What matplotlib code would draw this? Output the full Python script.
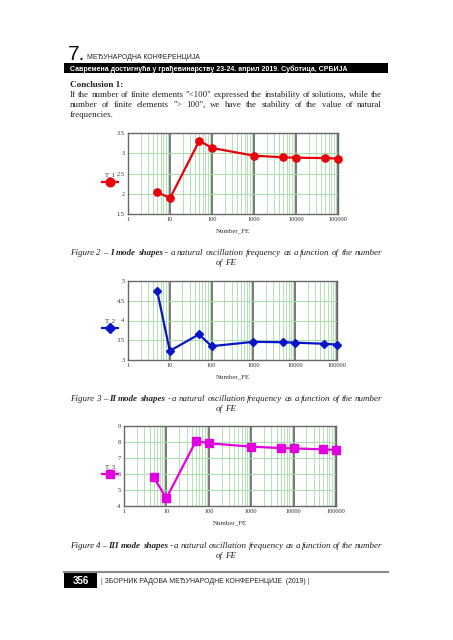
import matplotlib
matplotlib.use('Agg')
import matplotlib.pyplot as plt
from matplotlib.lines import Line2D
from matplotlib.patches import Rectangle
from matplotlib.ticker import FixedLocator, LogLocator, NullFormatter, NullLocator

W, H = 453, 640

# data read from the page
number_fe = [5, 10, 50, 100, 1000, 5000, 10000, 50000, 100000]
t_1 = [2.04, 1.89, 3.31, 3.13, 2.94, 2.90, 2.89, 2.88, 2.87]
t_2 = [4.74, 3.23, 3.65, 3.35, 3.46, 3.45, 3.44, 3.41, 3.39]
t_3 = [5.80, 4.49, 8.07, 7.92, 7.71, 7.62, 7.60, 7.54, 7.50]
x_ticks = [1, 10, 100, 1000, 10000, 100000]
x_labels = ['1', '10', '100', '1000', '10000', '100000']
y_ticks_1 = [1.5, 2, 2.5, 3, 3.5]
y_ticks_2 = [3, 3.5, 4, 4.5, 5]
y_ticks_3 = [4, 5, 6, 7, 8, 9]

header_num = '7.'
header_title = 'МЕЂУНАРОДНА КОНФЕРЕНЦИЈА'
header_bar = 'Савремена достигнућа у грађевинарству 23-24. април 2019. Суботица, СРБИЈА'
conclusion_title = 'Conclusion 1:'
conclusion_lines = [
    'If the number of finite elements "<100" expressed the instability of solutions, while the',
    'number of finite elements "> 100", we have the stability of the value of natural',
    'frequencies.',
]
captions = [('2', 'I'), ('3', 'II'), ('4', 'III')]
caption_rest = '- a natural oscillation frequency as a function of the number'
page_no = '356'
footer_text = '| ЗБОРНИК РАДОВА МЕЂУНАРОДНЕ КОНФЕРЕНЦИЈЕ  (2019) |'

SERIF = 'Liberation Serif'
SANS = 'Liberation Sans'
INK = '#222222'
X0, X1 = 70, 382
GAP = 2.2

fig = plt.figure(figsize=(W / 100, H / 100), dpi=100)
fig.patch.set_facecolor('white')
renderer = fig.canvas.get_renderer()


def fx(px):
    return px / W


def fy(py):
    return 1 - py / H


def text_w(s, **kw):
    t = fig.text(0, 0, s, **kw)
    w = t.get_window_extent(renderer).width
    t.remove()
    return w


def fit_text(s, x0, x1, y, size, **kw):
    # scale font size so the text spans x0..x1
    w = text_w(s, fontsize=size, **kw)
    fig.text(fx(x0), fy(y), s, fontsize=size * (x1 - x0) / w, va='baseline', ha='left', **kw)


def words_size(words, size=7.0):
    # font size at which the words with normal gaps fill the text block
    total = sum(text_w(w, fontsize=size, **kw) for w, kw in words)
    return size * (X1 - X0 - GAP * (len(words) - 1)) / total


def draw_words(words, size, y, mode):
    widths = [text_w(w, fontsize=size, **kw) for w, kw in words]
    if mode == 'justify' and len(words) > 1:
        gap = (X1 - X0 - sum(widths)) / (len(words) - 1)
        x = X0
    else:
        gap = GAP
        total = sum(widths) + gap * (len(words) - 1)
        x = X0 if mode == 'left' else (X0 + X1 - total) / 2
    for (w, kw), wd in zip(words, widths):
        fig.text(fx(x), fy(y), w, fontsize=size, va='baseline', ha='left', color=INK, **kw)
        x += wd + gap


body = dict(family=SERIF)
ital = dict(family=SERIF, style='italic')
bold_ital = dict(family=SERIF, style='italic', weight='bold')

# header
fig.text(fx(68), fy(60), header_num, family=SANS, fontsize=15, color='#111111', va='baseline')
fit_text(header_title, 87, 202, 59, 5, family=SANS, color='#222222')
fig.add_artist(Rectangle((fx(64), fy(73)), fx(388) - fx(64), (73 - 63) / H,
                         transform=fig.transFigure, facecolor='black', edgecolor='none'))
fit_text(header_bar, 70, 347, 71, 5.5, family=SANS, weight='bold', color='white')

# conclusion paragraph
para = [[(w, body) for w in line.split(' ')] for line in conclusion_lines]
body_size = words_size(para[0])
fig.text(fx(X0), fy(87), conclusion_title, family=SERIF, fontsize=body_size + 0.2,
         weight='bold', color=INK, va='baseline')
for i, words in enumerate(para):
    draw_words(words, body_size, 97 + 10 * i, 'justify' if i < len(para) - 1 else 'left')


def make_chart(box, x, y, yticks, color, marker, ms, name, leg_y):
    left, top, right, bottom = box
    ax = fig.add_axes([fx(left), fy(bottom), (right - left) / W, (bottom - top) / H])
    ax.set_xscale('log')
    ax.set_xlim(1, 100000)
    ax.set_ylim(yticks[0], yticks[-1])
    ax.xaxis.set_major_locator(FixedLocator(x_ticks))
    ax.xaxis.set_minor_locator(LogLocator(base=10, subs=range(2, 10)))
    ax.xaxis.set_minor_formatter(NullFormatter())
    ax.set_xticklabels(x_labels)
    ax.set_yticks(yticks)
    ax.set_yticklabels([('%g' % v) for v in yticks])
    ax.yaxis.set_minor_locator(NullLocator())
    ax.tick_params(which='both', length=0, labelsize=4.6, pad=2.5, colors='#333333')
    for lab in ax.get_xticklabels() + ax.get_yticklabels():
        lab.set_family(SERIF)
    ax.grid(which='minor', axis='x', color='#a8dca8', lw=0.6)
    ax.grid(which='major', axis='y', color='#a8dca8', lw=0.7)
    ax.grid(which='major', axis='x', color='#6e6e6e', lw=1.3)
    ax.set_axisbelow(True)
    for s in ax.spines.values():
        s.set_color('#666666')
        s.set_linewidth(1.0)
    ax.plot(x, y, color=color, lw=1.6, marker=marker, ms=ms, clip_on=False, zorder=3)
    ax.set_xlabel('Number_FE', family=SERIF, fontsize=5, color='#333333', labelpad=4)
    # legend to the left of the axes
    fig.text(fx(110), fy(leg_y - 7), name, family=SERIF, fontsize=5, color='#333333',
             ha='center', va='center')
    fig.add_artist(Line2D([fx(102), fx(118)], [fy(leg_y), fy(leg_y)], transform=fig.transFigure,
                          color=color, lw=1.6))
    fig.add_artist(Line2D([fx(110)], [fy(leg_y)], transform=fig.transFigure, color=color,
                          marker=marker, ms=ms + 1, lw=0))
    return ax


make_chart((128, 133, 338, 214), number_fe, t_1, y_ticks_1, '#e8000b', 'o', 5.2, 'T_1', 182)
make_chart((128, 281, 337, 360), number_fe, t_2, y_ticks_2, '#0a14c8', 'D', 4.4, 'T_2', 328)
make_chart((124, 426, 336, 506), number_fe, t_3, y_ticks_3, '#e000e0', 's', 5.2, 'T_3', 474)

# captions
cap_lines = []
for num, roman in captions:
    words = [('Figure', ital), (num, ital), ('–', ital), (roman, bold_ital), ('mode', bold_ital),
             ('shapes', bold_ital)]
    words += [(w, ital) for w in caption_rest.split(' ')]
    cap_lines.append(words)
cap_size = words_size(cap_lines[0])
for words, yb in zip(cap_lines, [255, 401, 548]):
    draw_words(words, cap_size, yb, 'justify')
    draw_words([('of', ital), ('FE', ital)], cap_size, yb + 10, 'center')

# footer
fig.add_artist(Line2D([fx(64), fx(388)], [fy(572), fy(572)], transform=fig.transFigure,
                      color='#8a8a8a', lw=1.5))
fig.add_artist(Rectangle((fx(64), fy(588)), fx(97) - fx(64), (588 - 573) / H,
                         transform=fig.transFigure, facecolor='black', edgecolor='none'))
fig.text(fx(80.5), fy(581), page_no, family=SANS, weight='bold', fontsize=7, color='white',
         ha='center', va='center')
fit_text(footer_text, 101, 312, 583, 5, family=SANS, color='#222222')

fig.savefig('out.png', dpi=100, facecolor='white')
